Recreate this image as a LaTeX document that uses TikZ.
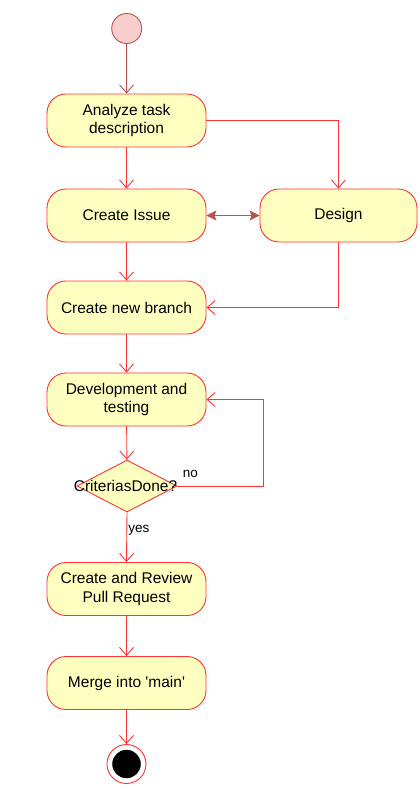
\documentclass[tikz,border=0pt]{standalone}
\usepackage{fontspec}
\setmainfont{Liberation Sans}
\usetikzlibrary{arrows.meta,shapes.geometric}
\definecolor{actfill}{HTML}{FFFFC0}
\definecolor{actline}{HTML}{FF3333}
\definecolor{startfill}{HTML}{F8CECC}
\definecolor{startline}{HTML}{B85450}
\tikzset{
  act/.style={draw=actline, fill=actfill, line width=0.9pt, rounded corners=19pt,
    minimum width=159pt, minimum height=53pt, inner sep=2pt, align=center,
    font=\fontsize{15.5}{18.5}\selectfont},
  flow/.style={draw=actline, line width=0.9pt, -{Straight Barb[length=8pt,width=14pt]}},
  lbl/.style={font=\fontsize{13.5}{16}\selectfont, inner sep=0pt}
}
\begin{document}
\begin{tikzpicture}[x=1pt,y=-1pt]
\useasboundingbox (0,0) rectangle (420,790);
\node[circle, draw=startline, fill=startfill, line width=0.9pt, minimum size=30pt, inner sep=0pt] (start) at (126.7,28.5) {};
\node[act] (analyze) at (126.5,120.5) {Analyze task\\description};
\node[act] (issue) at (126.5,215.5) {Create Issue};
\node[act, minimum width=157pt] (design) at (338.5,215.5) {Design};
\node[act] (branch) at (126.5,307.5) {Create new branch};
\node[act] (dev) at (126.5,399.5) {Development and\\testing};
\node[diamond, draw=actline, fill=actfill, line width=0.9pt, minimum width=100pt, minimum height=52pt, inner sep=0pt,
  label={[font=\fontsize{15.5}{18.5}\selectfont, inner sep=0pt, xshift=-1.5pt]center:CriteriasDone?}] (crit) at (127,486) {};
\node[act] (pr) at (126.5,589) {Create and Review\\Pull Request};
\node[act] (merge) at (126.5,683) {Merge into \textquotesingle main\textquotesingle};
\node[circle, draw=actline, fill=white, line width=0.9pt, minimum size=39pt, inner sep=0pt] (end) at (126.5,764) {};
\node[circle, draw=black, fill=black, minimum size=28pt, inner sep=0pt] (endin) at (end.center) {};
\coordinate (loop) at (263,486);

\draw[flow, draw=startline] (start) -- (analyze);
\draw[flow] (analyze) -- (issue);
\draw[flow] (analyze.east) -| (design.north);
\draw[draw=startline, line width=0.9pt, {Stealth[length=10pt,width=10pt,inset=2pt]}-{Stealth[length=10pt,width=10pt,inset=2pt]}] (issue.east) -- (design.west);
\draw[flow] (issue) -- (branch);
\draw[flow] (design.south) |- (branch.east);
\draw[flow] (branch) -- (dev);
\draw[flow] (dev) -- (crit);
\draw[flow] (crit.east) -- node[lbl, pos=0, anchor=west, xshift=5pt, yshift=12pt] {no} (loop) |- (dev.east);
\draw[flow] (crit.south) -- node[lbl, pos=0.35, anchor=west, xshift=1pt] {yes} (pr.north);
\draw[flow] (pr) -- (merge);
\draw[flow] (merge) -- (end);
\end{tikzpicture}
\end{document}
